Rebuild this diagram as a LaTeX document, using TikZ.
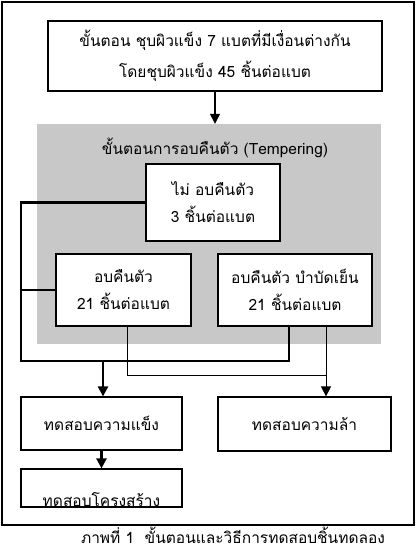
\documentclass[tikz,border=0pt]{standalone}
\usepackage{fontspec}
\newfontfamily\thaifont[Script=Thai]{Loma}
\usetikzlibrary{arrows.meta}
\definecolor{grisphase}{RGB}{200,200,200}
\tikzset{
  etape/.style={draw, line width=1.2pt, fill=white, align=center, inner sep=0pt},
  liengros/.style={line width=2.4pt},
  lienfin/.style={line width=0.9pt},
  fleche/.style={-{Triangle[width=10pt,length=10pt]}}
}
\begin{document}
\begin{tikzpicture}[x=1pt, y=-1pt, font=\thaifont\fontsize{15.5}{17}\selectfont]
    \useasboundingbox (0,0) rectangle (417,549);
    % Cadre
    \draw[line width=1.2pt] (2,2) rectangle (414,525);

    % Boites
    \node[etape, minimum width=334pt, minimum height=70pt] (trempe) at (215,56)
        {ขั้นตอน ชุบผิวแข็ง 7 แบตที่มีเงื่อนต่างกัน\\[10pt]โดยชุบผิวแข็ง 45 ชิ้นต่อแบต};
    \node[fill=grisphase, minimum width=344pt, minimum height=220pt, inner sep=0pt] (phase) at (209,234) {};
    \node (titre) at (215,148) {ขั้นตอนการอบคืนตัว (Tempering)};
    \node[etape, minimum width=134pt, minimum height=77pt] (sans) at (213,202.5)
        {ไม่ อบคืนตัว\\[10pt]3 ชิ้นต่อแบต};
    \node[etape, minimum width=135pt, minimum height=72pt] (revenu) at (123.5,290)
        {อบคืนตัว\\[10pt]21 ชิ้นต่อแบต};
    \node[etape, minimum width=154pt, minimum height=72pt] (refroid) at (295,290)
        {อบคืนตัว บำบัดเย็น\\[10pt]21 ชิ้นต่อแบต};
    \node[etape, minimum width=161pt, minimum height=53pt] (durete) at (101.5,423.5)
        {ทดสอบความแข็ง};
    \node[etape, minimum width=173pt, minimum height=54pt] (fatigue) at (304.5,424)
        {ทดสอบความล้า};
    \node[etape, minimum width=161pt, minimum height=38pt] (structure) at (101.5,488) {};
    \begin{scope}
        \clip (structure.north west) rectangle (structure.south east);
        \node at (101.5,500) {ทดสอบโครงสร้าง};
    \end{scope}

    % Points de jonction
    \coordinate (bus) at (21,361);
    \coordinate (jonction) at (326,375);

    % Liens
    \draw[fleche, line width=1.2pt] (trempe.south) -- (trempe.south |- phase.north);
    \draw[liengros] (sans.west) -| (bus) -| ([xshift=-6pt]refroid.south);
    \draw[liengros] (revenu.west) -- (revenu.west -| bus);
    \draw[liengros, fleche] (bus -| 103,0) -- (durete.north -| 103,0);
    \draw[lienfin] ([xshift=3.5pt]revenu.south) |- (jonction);
    \draw[lienfin, fleche] (refroid.south -| jonction) -- (fatigue.north -| jonction);
    \draw[liengros, fleche] (durete.south) -- (structure.north);

    % Legende
    \node[inner sep=1pt] (legende) at (233,535) {ภาพที่ 1\ \ ขั้นตอนและวิธีการทดสอบชิ้นทดลอง};
\end{tikzpicture}
\end{document}
